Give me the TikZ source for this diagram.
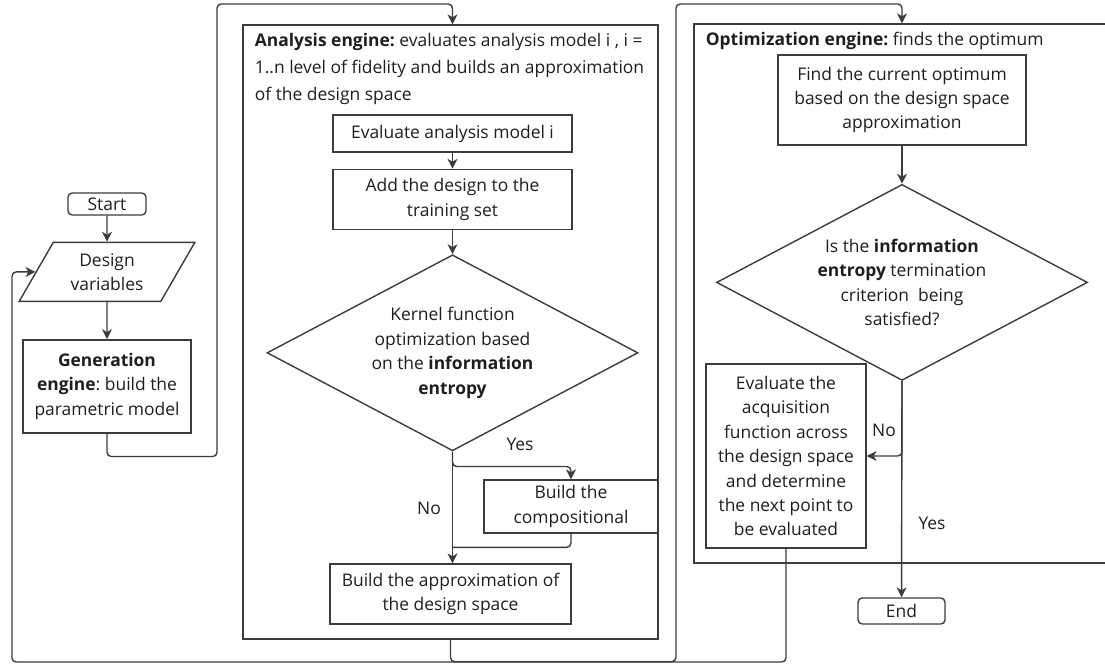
\documentclass[tikz,border=0pt]{standalone}
\usepackage{fontspec}
\setmainfont{Open Sans}
\frenchspacing
\usetikzlibrary{arrows.meta,positioning}
\usetikzlibrary{shapes.geometric}
\usetikzlibrary{calc}
\definecolor{line_grey}{HTML}{3C3C3C}
\definecolor{text_grey}{HTML}{1E1E1E}
\newcommand{\flowfont}{\fontsize{12.4}{17.4}\selectfont}

\begin{document}
\begin{tikzpicture}[
	    auto,
	    onlytext/.style={align=center, font=\flowfont, text=text_grey, inner sep=1pt},
	    titletext/.style={align=left, font=\fontsize{12.4}{19.2}\selectfont, text=text_grey, inner sep=3pt},
	    flowbox/.style={rectangle, draw=line_grey, line width=1pt, align=center, font=\flowfont, text=text_grey, inner sep=2pt},
	    termbox/.style={flowbox, rounded corners=3pt},
	    iobox/.style={flowbox, trapezium, trapezium left angle=60, trapezium right angle=120},
	    decision/.style={flowbox, diamond, aspect=1.9, inner sep=0pt},
	    enginebox/.style={rectangle, draw=line_grey, line width=1pt},
	    normalline/.style={-{Stealth[length=7pt, width=7pt, inset=2pt]}, line width=1pt, draw=line_grey, rounded corners=3pt},
	    plainline/.style={line width=1pt, draw=line_grey, rounded corners=3pt},
	]
	\path[use as bounding box] (0,0) rectangle (27.625,-16.65);
	\clip (0,0) rectangle (27.625,-16.65);

	% Generation
	\node[termbox, minimum width=1.95cm, minimum height=0.55cm] (start) at (2.675,-5.1) {Start};
	\node[iobox, minimum width=3.725cm, minimum height=1.475cm, below=0.65cm of start] (design) {Design\\variables};
	\node[flowbox, minimum width=4.2cm, minimum height=2.325cm, below=0.925cm of design] (gen) {\textbf{Generation}\\\textbf{engine}: build the\\parametric model};

	% Analysis engine
	\node[enginebox, minimum width=10.375cm, minimum height=15.35cm] (anabox) at (11.2625,-8.3) {};
	\node[titletext, anchor=north west, xshift=0.2cm, yshift=-0.1cm] (anatitle) at (anabox.north west) {\textbf{Analysis engine:} evaluates analysis model i , i =\\1..n level of fidelity and builds an approximation\\of the design space};
	\node[flowbox, minimum width=5.975cm, minimum height=0.925cm] (evalmodel) at (11.3125,-3.3375) {Evaluate analysis model i};
	\node[flowbox, minimum width=5.975cm, minimum height=1.5cm, below=0.4cm of evalmodel] (addset) {Add the design to the\\training set};
	\node[decision, minimum width=9.275cm, minimum height=4.9cm, below=0.6cm of addset] (kernel) {Kernel function\\optimization based\\on the \textbf{information}\\\textbf{entropy}};
	\node[flowbox, minimum width=4.35cm, minimum height=1.325cm] (compo) at (14.275,-12.6625) {Build the\\compositional};
	\node[flowbox, minimum width=6.025cm, minimum height=1.5cm] (approx) at (11.2625,-14.85) {Build the approximation of\\the design space};

	% Optimization engine
	\node[enginebox, minimum width=10.85cm, minimum height=13.475cm] (optbox) at (22.775,-7.3375) {};
	\node[titletext, anchor=north west, xshift=0.2cm, yshift=-0.1cm] (opttitle) at (optbox.north west) {\textbf{Optimization engine:} finds the optimum};
	\node[flowbox, minimum width=6.2cm, minimum height=2.25cm] (find) at (22.55,-2.5) {Find the current optimum\\based on the design space\\approximation};
	\node[decision, minimum width=9.275cm, minimum height=4.9cm, below=0.95cm of find] (check) {Is the \textbf{information}\\\textbf{entropy} termination\\criterion\ \ being\\satisfied?};
	\node[flowbox, minimum width=4.0cm, minimum height=4.6cm] (acq) at (19.65,-11.4) {Evaluate the\\acquisition\\function across\\the design space\\and determine\\the next point to\\be evaluated};
	\node[termbox, minimum width=2.175cm, minimum height=0.65cm] (stop) at (22.5375,-15.275) {End};

	% connection lines
	\draw [normalline] (start) -- (design);
	\draw [normalline] (design) -- (gen);
	\coordinate (genturn) at (5.425,-0.1);
	\draw [normalline] (gen.south) -- ++(0,-0.575) -| (genturn) -| (evalmodel.north |- anabox.north);

	\draw [normalline] (evalmodel) -- (addset);
	\draw [normalline] (addset) -- (kernel);
	\draw [normalline] (kernel.south) -- ++(0,-0.375) -| (compo.north);
	\draw [normalline] (kernel.south) -- (kernel.south |- approx.north);
	\coordinate (merge) at ($(kernel.south |- approx.north)+(0,0.4)$);
	\draw [plainline] (compo.south) |- (merge);
	\node[onlytext] (yeslabel) at (13,-11.1) {Yes};
	\node[onlytext] (nolabel) at (10.725,-12.7) {No};

	\coordinate (anaturn) at (16.9,-0.1);
	\draw [normalline] (anabox.south) -- ++(0,-0.55) -| (anaturn) -| (find.north |- optbox.north);

	\draw [normalline] (find) -- (check);
	\draw [normalline] (check.south) -- (stop);
	\draw [normalline] (check.south) |- (acq.east);
	\node[onlytext] (checkno) at (22.1,-10.75) {No};
	\node[onlytext] (checkyes) at (23.3,-13.075) {Yes};

	% back to the design variables
	\coordinate (backturn) at (0.3,-16.55);
	\draw [normalline] (acq.south) |- (backturn) |- (design.west);

\end{tikzpicture}
\end{document}
